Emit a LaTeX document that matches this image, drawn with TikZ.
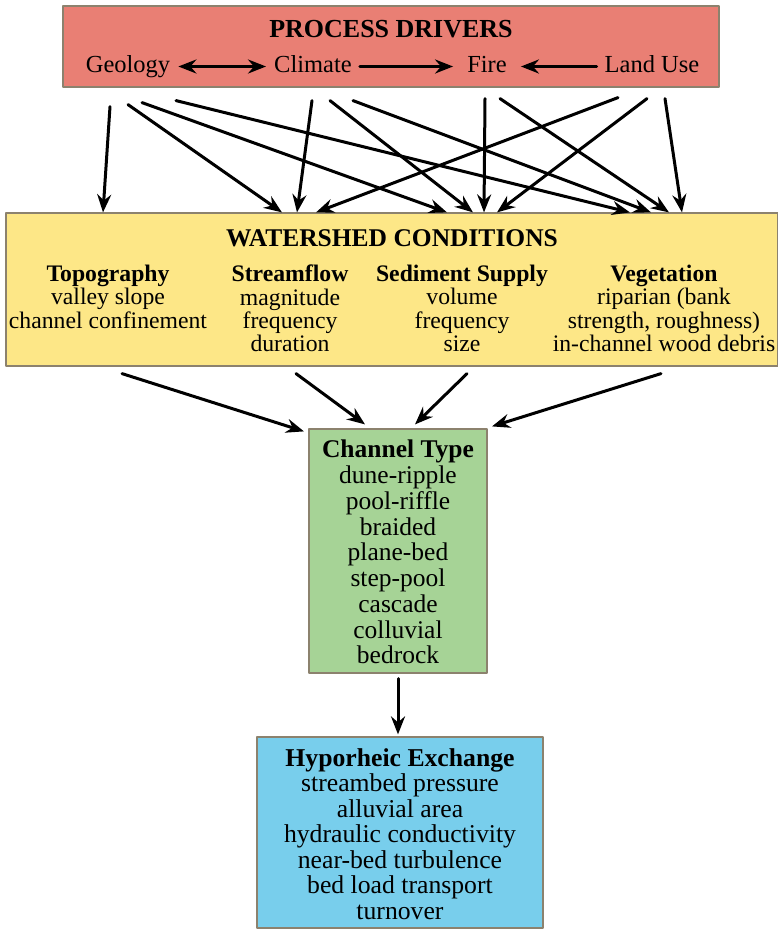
\documentclass[tikz,border=0pt]{standalone}
\usepackage{fontspec}
\setmainfont{Liberation Serif}
\usetikzlibrary{arrows.meta}
\definecolor{driverred}{RGB}{233,127,116}
\definecolor{condyellow}{RGB}{253,231,135}
\definecolor{typegreen}{RGB}{166,211,150}
\definecolor{hypoblue}{RGB}{120,206,236}
\definecolor{boxedge}{RGB}{140,130,110}
\begin{document}
\begin{tikzpicture}[x=1pt, y=-1pt, line cap=round, line join=round,
    box/.style={draw=boxedge, line width=1.2pt, inner sep=0pt},
    lbl/.style={inner sep=0pt, align=center},
    drvlbl/.style={inner xsep=8pt, inner ysep=0pt, text height=15pt, text depth=4pt,
      anchor=base, font=\fontsize{24.5}{26}\selectfont},
    tip/.style={line width=3pt, -{Stealth[length=18pt,width=14pt,inset=6pt]}},
    dtip/.style={line width=3pt, {Stealth[length=18pt,width=14pt,inset=6pt]}-{Stealth[length=18pt,width=14pt,inset=6pt]}}]
  \useasboundingbox (0,0) rectangle (778,929);
  % Riquadri
  \node[box, fill=driverred, minimum width=656pt, minimum height=81pt] (drv) at (391,46.5) {};
  \node[box, fill=condyellow, minimum width=772pt, minimum height=153pt] (cond) at (392,289.5) {};
  \node[box, fill=typegreen, minimum width=178pt, minimum height=244pt] (type) at (398,551) {};
  \node[box, fill=hypoblue, minimum width=286pt, minimum height=191pt] (hypo) at (400,832.5) {};
  % Fattori
  \node[lbl, anchor=base, font=\bfseries\fontsize{26}{28}\selectfont] (drvtitle) at (391,37) {PROCESS DRIVERS};
  \node[drvlbl] (geo) at (128,72) {Geology};
  \node[drvlbl] (clim) at (313,72) {Climate};
  \node[drvlbl, inner xsep=14pt] (fire) at (487,72) {Fire};
  \node[drvlbl] (land) at (652,72) {Land Use};
  \draw[dtip] (geo) -- (clim);
  \draw[tip] (clim) -- (fire);
  \draw[tip] (land) -- (fire);
  % Frecce verso le condizioni
  \foreach \a/\b/\s in {110/103/19, 128/282/17, 142/447/15, 176/630/13, 312/297/13, 330/473/13,
      353/651/13, 485/484/11, 500/669/11, 618/316/10, 647/497/11, 665/682/11}
    \draw[tip] ([yshift=-\s pt]\a,0 |- drv.south) -- (\b,0 |- cond.north);
  % Condizioni
  \node[lbl, anchor=base, font=\bfseries\fontsize{25.5}{27}\selectfont] (condtitle) at (392,246) {WATERSHED CONDITIONS};
  \begin{scope}[every node/.style={lbl, anchor=north, font=\fontsize{23.7}{23.3}\selectfont}]
    \node (topo) at (108,265) {\textbf{Topography}\\valley slope\\channel confinement};
    \node (flow) at (290,265) {\textbf{Streamflow}\\magnitude\\frequency\\duration};
    \node (sed) at (462,265) {\textbf{Sediment Supply}\\volume\\frequency\\size};
    \node (veg) at (664,265) {\textbf{Vegetation}\\riparian (bank\\strength, roughness)\\in-channel wood debris};
  \end{scope}
  % Frecce verso il tipo di alveo
  \foreach \a/\b/\c in {122/304/-3, 296/365/4, 467/415/4, 661/492/2}
    \draw[tip] ([yshift=-7pt]\a,0 |- cond.south) -- ([yshift=\c pt]\b,0 |- type.north);
  % Tipo di alveo
  \node[lbl, anchor=north, font=\fontsize{25.5}{25.75}\selectfont] (typetxt) at (398,440) {\textbf{Channel Type}\\dune-ripple\\pool-riffle\\braided\\plane-bed\\step-pool\\cascade\\colluvial\\bedrock};
  \draw[tip] ([yshift=-5pt]type.south) -- ([yshift=2pt]type.south |- hypo.north);
  % Scambio iporreico
  \node[lbl, anchor=north, font=\fontsize{25.7}{25.5}\selectfont] (hypotxt) at (400,748) {\textbf{Hyporheic Exchange}\\streambed pressure\\alluvial area\\hydraulic conductivity\\near-bed turbulence\\bed load transport\\turnover};
\end{tikzpicture}
\end{document}
